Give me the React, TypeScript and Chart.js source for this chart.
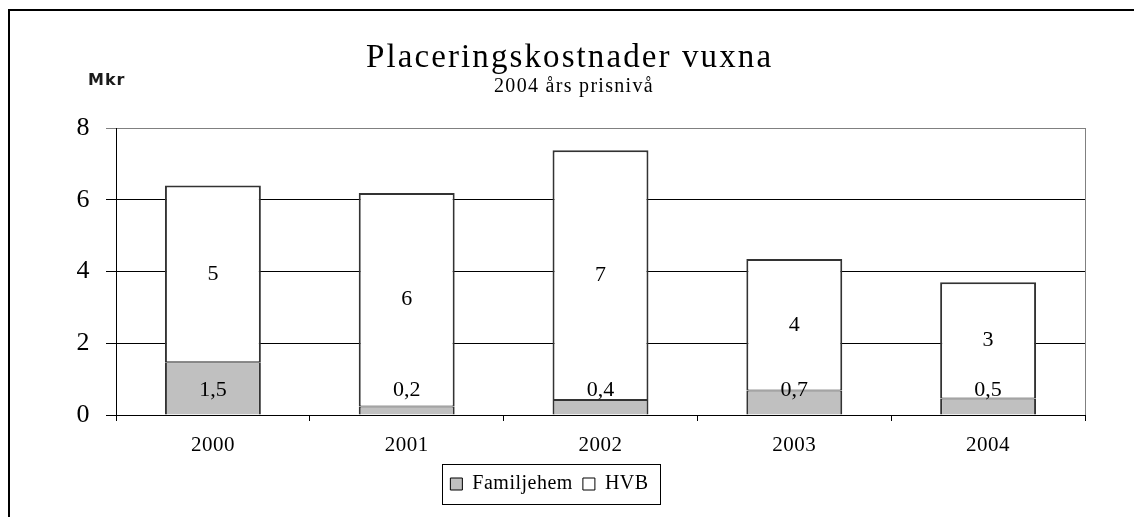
import React, { useEffect, useRef } from 'react';
import { Chart, registerables } from 'chart.js';

Chart.register(...registerables);

const categories = ['2000', '2001', '2002', '2003', '2004'];
const familjehem = [1.47, 0.24, 0.42, 0.68, 0.46];
const hvb = [4.93, 5.95, 6.96, 3.67, 3.24];
const seriesNames = ['Familjehem', 'HVB'];
const yMin = 0;
const yMax = 8;
const yStep = 2;
const titleText = 'Placeringskostnader vuxna';
const subtitleText = '2004 års prisnivå';
const unitText = 'Mkr';

const SERIF = '"Liberation Serif", "Times New Roman", serif';
const LEGEND_SHIFT = 7;
const BASE_SPACING = '0.5px';

const fmt = (v: number, decimals: number) => v.toFixed(decimals).replace('.', ',');

const decoPlugin = {
  id: 'deco',
  beforeLayout(chart: any) {
    chart.ctx.letterSpacing = BASE_SPACING;
  },
  afterLayout(chart: any) {
    const lg = chart.legend;
    if (lg) {
      lg.left += LEGEND_SHIFT;
      lg.right += LEGEND_SHIFT;
    }
  },
  beforeDraw(chart: any) {
    const ctx = chart.ctx;
    ctx.save();
    ctx.fillStyle = '#ffffff';
    ctx.fillRect(0, 0, chart.width, chart.height);
    ctx.restore();
    ctx.letterSpacing = BASE_SPACING;
  },
  afterDatasetsDraw(chart: any) {
    const ctx = chart.ctx;
    const area = chart.chartArea;
    ctx.save();
    // plot-area right border
    ctx.strokeStyle = '#808080';
    ctx.lineWidth = 1;
    ctx.beginPath();
    ctx.moveTo(Math.round(area.right) + 0.5, area.top);
    ctx.lineTo(Math.round(area.right) + 0.5, area.bottom);
    ctx.stroke();

    // data labels
    ctx.letterSpacing = '0px';
    ctx.fillStyle = '#000';
    ctx.font = `22px ${SERIF}`;
    ctx.textAlign = 'center';
    ctx.textBaseline = 'middle';
    const zeroY = chart.scales.y.getPixelForValue(0);
    const m0 = chart.getDatasetMeta(0);
    const m1 = chart.getDatasetMeta(1);
    m0.data.forEach((el: any, i: number) => {
      ctx.fillText(fmt(familjehem[i], 1), el.x, zeroY - 25);
    });
    m1.data.forEach((el: any, i: number) => {
      ctx.fillText(fmt(hvb[i], 0), el.x, (el.y + el.base) / 2);
    });
    ctx.restore();
  },
  afterDraw(chart: any) {
    const ctx = chart.ctx;
    ctx.save();
    ctx.fillStyle = '#000';
    ctx.textAlign = 'left';
    ctx.textBaseline = 'alphabetic';
    // title
    ctx.letterSpacing = '2.1px';
    ctx.font = `33px ${SERIF}`;
    ctx.fillText(titleText, 366, 67);
    // subtitle
    ctx.letterSpacing = '1.3px';
    ctx.font = `20px ${SERIF}`;
    ctx.textAlign = 'center';
    ctx.fillText(subtitleText, 574, 92);
    // unit label
    ctx.letterSpacing = '1px';
    ctx.textAlign = 'left';
    ctx.font = `bold 16px "DejaVu Sans", sans-serif`;
    ctx.fillStyle = '#1a1a1a';
    ctx.fillText(unitText, 88, 85);

    // legend frame
    const lg = chart.legend;
    if (lg && lg.legendHitBoxes && lg.legendHitBoxes.length) {
      const hb = lg.legendHitBoxes;
      let l = Infinity, r = -Infinity, t = Infinity, b = -Infinity;
      hb.forEach((h: any) => {
        l = Math.min(l, h.left);
        r = Math.max(r, h.left + h.width);
        t = Math.min(t, h.top);
        b = Math.max(b, h.top + h.height);
      });
      const cy = (t + b) / 2;
      ctx.strokeStyle = '#000';
      ctx.lineWidth = 1;
      ctx.strokeRect(Math.round(l - 8) + 0.5, Math.round(cy - 20) + 0.5, Math.round(r - l + 20), 40);
    }

    // outer frame
    ctx.strokeStyle = '#000';
    ctx.lineWidth = 2;
    ctx.strokeRect(9, 10, 2000, 2000);
    ctx.restore();
  },
};

export default function App() {
  const ref = useRef<HTMLCanvasElement | null>(null);

  useEffect(() => {
    if (!ref.current) return;
    const chart = new Chart(ref.current, {
      type: 'bar',
      data: {
        labels: categories,
        datasets: [
          {
            label: seriesNames[0],
            data: familjehem,
            backgroundColor: '#c0c0c0',
            borderColor: '#333',
            borderWidth: { left: 2, right: 2, top: 1, bottom: 0 },
            borderSkipped: false,
            barPercentage: 0.495,
            categoryPercentage: 1,
          },
          {
            label: seriesNames[1],
            data: hvb,
            backgroundColor: '#ffffff',
            borderColor: '#333',
            borderWidth: { left: 2, right: 2, top: 2, bottom: 1 },
            borderSkipped: false,
            barPercentage: 0.495,
            categoryPercentage: 1,
          },
        ],
      },
      options: {
        responsive: false,
        animation: false,
        devicePixelRatio: 1,
        layout: { padding: { top: 128, left: 0, right: 49, bottom: 13 } },
        plugins: {
          title: { display: false },
          tooltip: { enabled: false },
          legend: {
            display: true,
            position: 'bottom',
            labels: {
              color: '#000',
              font: { family: SERIF, size: 20 },
              boxWidth: 12,
              boxHeight: 12,
              padding: 10,
              generateLabels: (chart: any) =>
                chart.data.datasets.map((ds: any, i: number) => ({
                  text: ds.label,
                  fillStyle: ds.backgroundColor,
                  strokeStyle: '#000',
                  lineWidth: 1,
                  hidden: false,
                  datasetIndex: i,
                  fontColor: '#000',
                })),
            },
          },
        },
        scales: {
          x: {
            stacked: true,
            afterFit: (s: any) => {
              s.height = 49;
            },
            border: { display: true, color: '#000', width: 1 },
            grid: {
              display: true,
              offset: true,
              drawOnChartArea: false,
              drawTicks: true,
              tickLength: 6,
              color: '#000',
            },
            ticks: {
              color: '#000',
              font: { family: SERIF, size: 21 },
              padding: 12,
              maxRotation: 0,
            },
          },
          y: {
            stacked: true,
            min: yMin,
            max: yMax,
            afterFit: (s: any) => {
              s.width = 116;
            },
            border: { display: true, color: '#000', width: 1 },
            grid: {
              display: true,
              drawTicks: true,
              tickLength: 10,
              color: (c: any) => (c.tick && c.tick.value === yMax ? '#808080' : '#000'),
            },
            ticks: {
              stepSize: yStep,
              color: '#000',
              font: { family: SERIF, size: 26 },
              padding: 16,
            },
          },
        },
      },
      plugins: [decoPlugin],
    });
    return () => chart.destroy();
  }, []);

  return (
    <div style={{ position: 'fixed', left: 0, top: 0, width: 1134, height: 517, background: '#fff' }}>
      <canvas ref={ref} width={1134} height={517} style={{ display: 'block', width: 1134, height: 517 }} />
    </div>
  );
}
